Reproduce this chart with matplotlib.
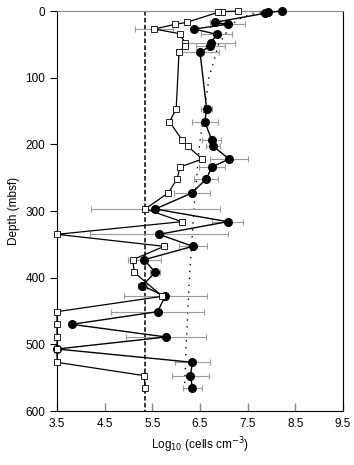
import matplotlib
matplotlib.use("Agg")
import matplotlib.pyplot as plt
import numpy as np

plt.rcParams['font.family'] = ['Liberation Sans', 'DejaVu Sans']

# filled circles: depth (mbsf), log10 cells, error
circ_depth = [0, 2, 3.5, 17, 20, 27, 35, 48, 52, 62, 147, 166, 194, 203, 222, 234, 252,
              273, 297, 316, 335, 353, 373, 392, 412, 428, 451, 470, 489, 507, 527, 547, 565]
circ_val = [8.21, 7.93, 7.86, 6.81, 7.08, 6.38, 6.85, 6.73, 6.72, 6.50, 6.64, 6.60, 6.75, 6.78,
            7.11, 6.75, 6.63, 6.33, 5.56, 7.08, 5.64, 6.35, 5.33, 5.56, 5.29, 5.77, 5.61, 3.81,
            5.79, 3.50, 6.34, 6.30, 6.34]
circ_err = [0, 0, 0, 0.1, 0.36, 0, 0.33, 0.5, 0.3, 0.4, 0.12, 0.27, 0.2, 0.15, 0.4, 0.27, 0.25,
            0.37, 1.35, 0.32, 1.45, 0.3, 0.35, 0.1, 0.1, 0.87, 0.98, 0, 0.84, 0, 0.36, 0.38, 0.2]

# open squares
sq_depth = [0, 1, 2, 17, 20, 27, 34, 48, 52, 62, 147, 166, 194, 203, 222, 234, 252, 273,
            297, 316, 335, 353, 373, 392, 428, 451, 470, 489, 507, 527, 547, 565]
sq_val = [7.30, 6.97, 6.88, 6.22, 5.98, 5.54, 6.07, 6.19, 6.19, 6.06, 6.00, 5.86, 6.13, 6.24,
          6.55, 6.08, 6.02, 5.83, 5.35, 6.12, 3.50, 5.75, 5.09, 5.12, 5.71, 3.50, 3.50, 3.50,
          3.50, 3.50, 5.33, 5.35]
sq_err = [0.3, 0, 0, 0, 0, 0.4, 0, 0, 0, 0, 0, 0, 0, 0, 0, 0, 0, 0,
          0, 0, 0, 0, 0, 0, 0, 0, 0, 0, 0, 0, 0, 0]

# detection limit
detect_limit = 5.35

# general depth distribution curve
curve_depth = [0.03, 0.1, 0.5, 1, 2, 5, 10, 20, 50, 100, 200, 300, 400, 500, 560]
curve_val = [9.09, 8.73, 8.25, 8.05, 7.85, 7.57, 7.37, 7.17, 6.89, 6.69, 6.49, 6.37, 6.28, 6.21, 6.18]

fig = plt.figure(figsize=(3.54, 4.65), dpi=100)
ax = fig.add_axes([57 / 354, 1 - 411 / 465, 286 / 354, 400 / 465])

ax.plot(curve_val, curve_depth, color='black', linestyle=(0, (1, 4)), lw=1.0, zorder=1)
ax.plot([detect_limit, detect_limit], [0, 600], color='black', linestyle=(0, (3, 1.5)), lw=1.1, zorder=1)

ax.errorbar(sq_val, sq_depth, xerr=sq_err, fmt='none', ecolor='#9a9a9a', elinewidth=0.8,
            capsize=2, capthick=0.8, zorder=2)
ax.errorbar(circ_val, circ_depth, xerr=circ_err, fmt='none', ecolor='#9a9a9a', elinewidth=0.8,
            capsize=2, capthick=0.8, zorder=2)

ax.plot(circ_val, circ_depth, color='black', lw=1.0, marker='o', markersize=5.5,
        markerfacecolor='black', markeredgecolor='black', zorder=3, clip_on=False)
ax.plot(sq_val, sq_depth, color='black', lw=0.9, marker='s', markersize=5,
        markerfacecolor='white', markeredgecolor='black', markeredgewidth=0.6,
        zorder=4, clip_on=False)

ax.set_xlim(3.5, 9.5)
ax.set_ylim(600, 0)
ax.set_xticks(np.arange(3.5, 9.6, 1.0))
ax.set_yticks(np.arange(0, 601, 100))
ax.tick_params(axis='x', direction='in', length=6, color='#888888', width=1, labelsize=8.5, pad=5)
ax.tick_params(axis='y', direction='out', length=5, width=0.8, labelsize=8.5)
ax.spines['top'].set_color('#888888')
for s in ['left', 'right', 'bottom']:
    ax.spines[s].set_linewidth(0.8)

ax.set_xlabel(r'Log$_{10}$ (cells cm$^{-3}$)', fontsize=8.5)
ax.set_ylabel('Depth (mbsf)', fontsize=8.5)

fig.savefig('out.png', dpi=100)
